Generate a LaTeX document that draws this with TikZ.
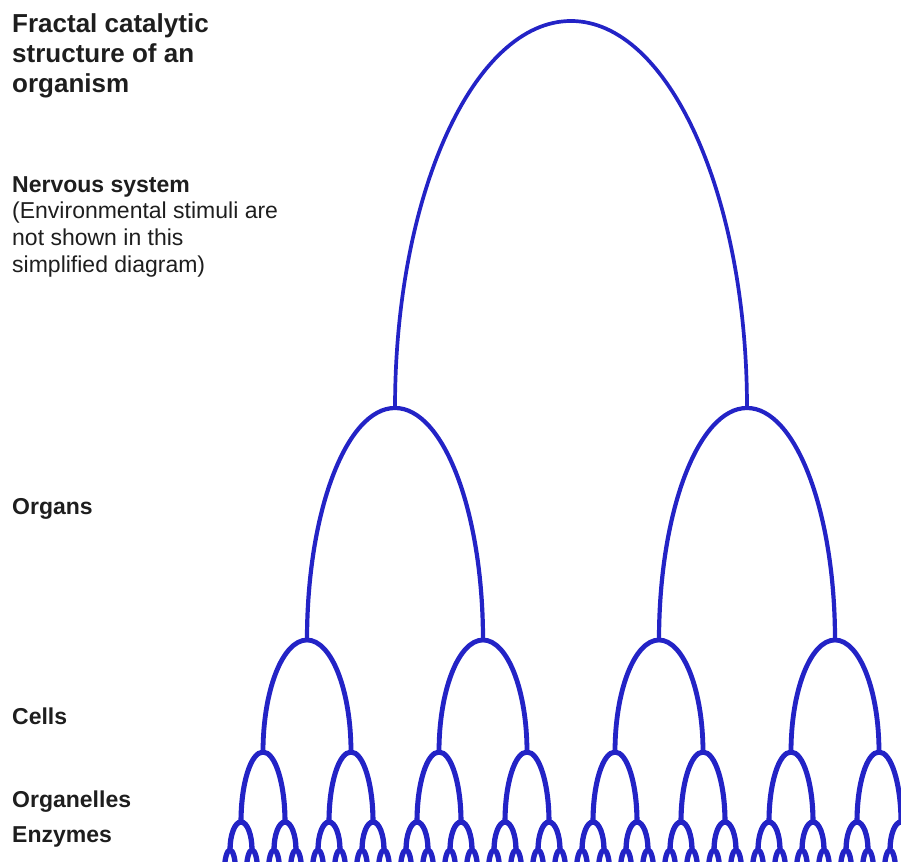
\documentclass[tikz,border=0pt]{standalone}
\usepackage{fontspec}
\setmainfont{Liberation Sans}
\usepackage{xcolor}
\usepackage{tikz}
\usetikzlibrary{positioning}
\definecolor{ArchBlue}{HTML}{2323C6}
\definecolor{LabelInk}{HTML}{1E1E1E}

\begin{document}
\begin{tikzpicture}[x=1pt,y=1pt,
    arch/.style={ArchBlue,line width=#1},
    level/.style={LabelInk,inner sep=0pt,anchor=base west,
      font=\fontsize{23}{26.7}\selectfont\bfseries}]
  \useasboundingbox (0,0) rectangle (901,861);
  % arches, level by level: width halves each time
  \foreach \lev/\wd/\ytop/\ht/\lw in {1/176/840/387/3.7pt,2/88/453/232/4.2pt,3/44/221/112/4.8pt,
      4/22/109/70/5.1pt,5/11/39/28/5.3pt,6/5.5/11/20/5.3pt}{%
    \pgfmathtruncatemacro{\num}{2^(\lev-1)-1}
    \foreach \i in {0,...,\num}{%
      \pgfmathsetmacro{\cx}{571-352+2*\wd+4*\wd*\i}
      \draw[arch=\lw] (\cx-\wd,\ytop-\ht)
        arc[start angle=180,end angle=0,x radius=\wd pt,y radius=\ht pt];
    }
  }
  \node[LabelInk,inner sep=0pt,anchor=north west,align=left,
    font=\fontsize{26}{30}\selectfont\bfseries] (title) at (12,848)
    {Fractal catalytic\\structure of an\\organism};
  \node[LabelInk,inner sep=0pt,anchor=north west,align=left,
    font=\fontsize{23}{26.7}\selectfont] (nervous) at (12,685)
    {\textbf{Nervous system}\\(Environmental stimuli are\\not shown in this\\simplified diagram)};
  \node[level] (organs) at (12,346) {Organs};
  \node[level] (cells) at (12,136) {Cells};
  \node[level] (organelles) at (12,53) {Organelles};
  \node[level] (enzymes) at (12,19) {Enzymes};
\end{tikzpicture}
\end{document}
